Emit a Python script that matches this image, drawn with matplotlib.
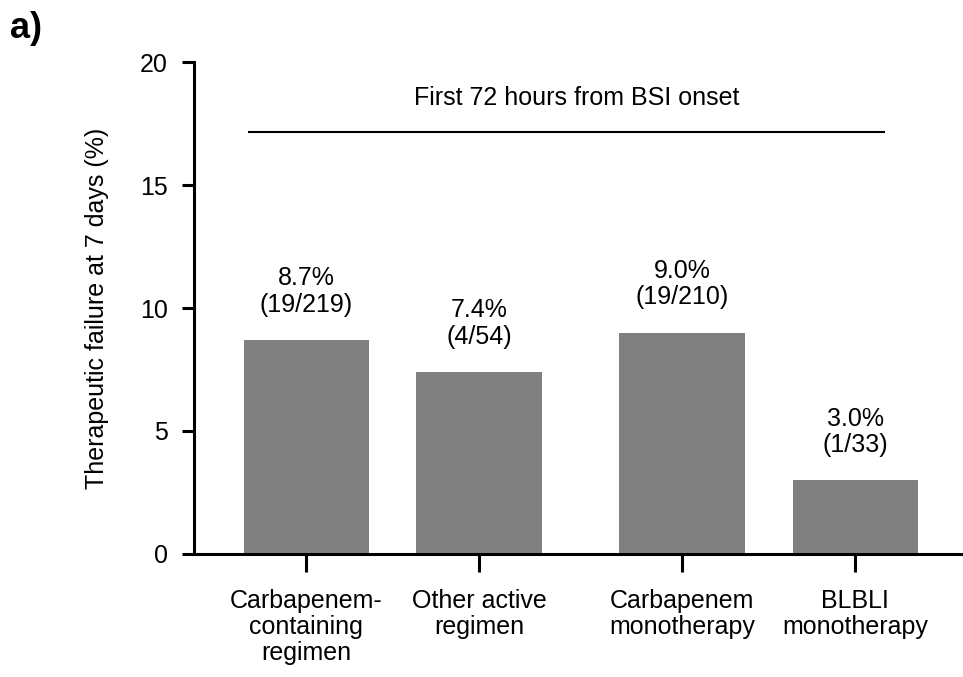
import matplotlib
matplotlib.use("Agg")
from matplotlib import pyplot as plt

plt.rcParams['font.family'] = ['Liberation Sans', 'DejaVu Sans']

# data
groups = ["Carbapenem-\ncontaining\nregimen", "Other active\nregimen",
          "Carbapenem\nmonotherapy", "BLBLI\nmonotherapy"]
positions = [0, 1, 2.174, 3.177]
failure_pct = [8.7, 7.4, 9.0, 3.0]
counts = ["19/219", "4/54", "19/210", "1/33"]
y_ticks = [0, 5, 10, 15, 20]

fig = plt.figure(figsize=(9.63, 6.77), dpi=100)
ax = fig.add_axes([0.2015, 0.1817, 0.80, 0.7267])

ax.bar(positions, failure_pct, width=0.725, color="#808080")

for x, v, c in zip(positions, failure_pct, counts):
    ax.text(x, v + 0.95, f"{v:.1f}%\n({c})", ha="center", va="bottom",
            fontsize=18, linespacing=1.12)

# bracket line + caption
ax.plot([-0.333, 3.345], [17.15, 17.15], color="black", lw=1.5, clip_on=False)
ax.text(1.563, 18.55, "First 72 hours from BSI onset", ha="center",
        va="center", fontsize=18)

ax.set_xlim(-0.649, 3.809)
ax.set_ylim(0, 20)
ax.set_yticks(y_ticks)
ax.set_xticks(positions)
ax.set_xticklabels(groups, fontsize=18, linespacing=1.12)
ax.tick_params(axis="y", labelsize=18, length=9, width=2.2, pad=10)
ax.tick_params(axis="x", length=13, width=2.2, pad=12)
ax.set_ylabel("Therapeutic failure at 7 days (%)", fontsize=18, labelpad=22)

for s in ["top", "right"]:
    ax.spines[s].set_visible(False)
for s in ["left", "bottom"]:
    ax.spines[s].set_linewidth(2.2)

fig.text(0.010, 0.958, "a)", fontsize=26, fontweight="bold", va="center")

fig.savefig("out.png", dpi=100)
